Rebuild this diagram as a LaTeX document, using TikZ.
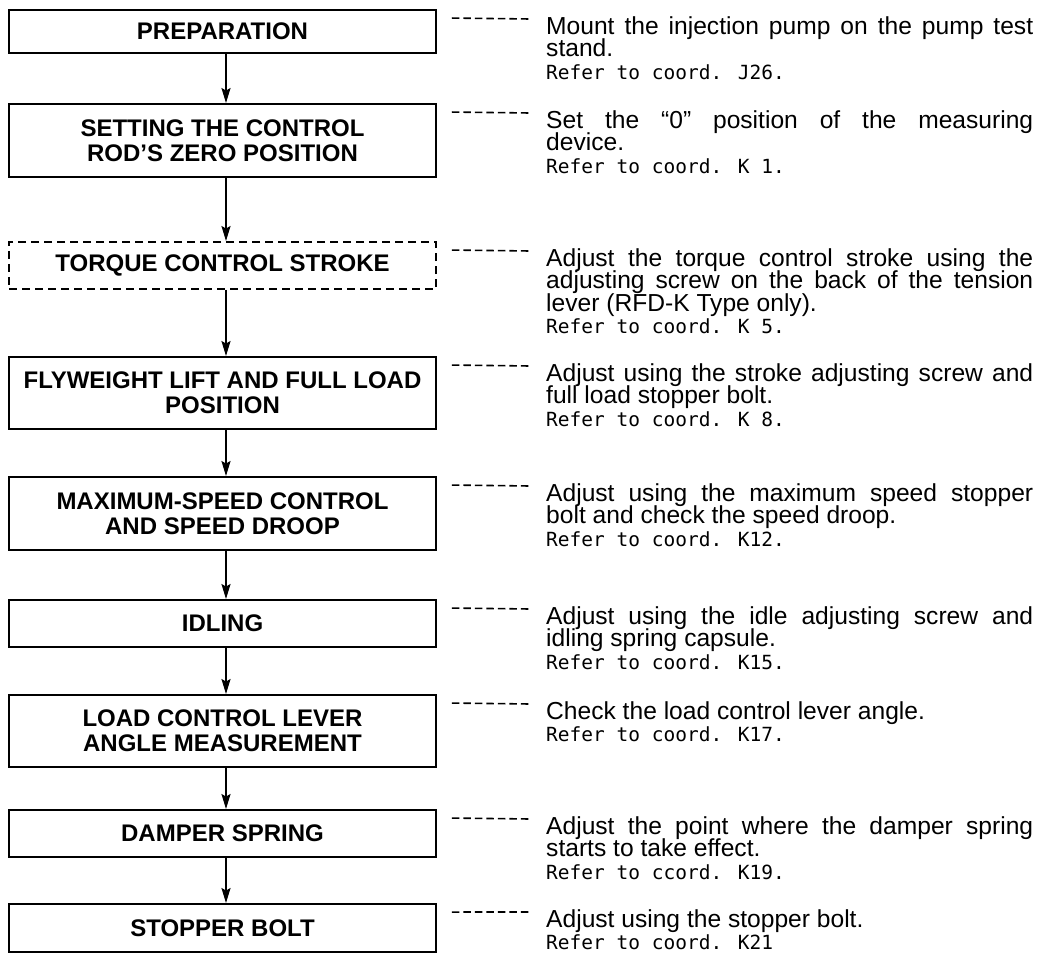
\documentclass[tikz,border=0pt]{standalone}
\usepackage{fontspec}
\setmainfont{Liberation Sans}
\newfontfamily\monofont{DejaVu Sans Mono}
\usetikzlibrary{arrows.meta}
\newcommand\refline[1]{{\monofont\fontsize{19.5}{22.5}\selectfont #1}}
\newcommand\descfont{\fontsize{24.6}{22.5}\selectfont\lineskiplimit=-20pt\relax}
\begin{document}
\begin{tikzpicture}[x=1pt,y=-1pt,
  box/.style={draw, line width=1.9pt, minimum width=427pt, inner sep=2pt, align=center,
    font=\fontsize{24}{25}\selectfont\bfseries},
  dbox/.style={box, dash pattern=on 8pt off 5pt},
  desc/.style={anchor=north west, inner sep=0pt, text width=487pt, align=justify,
    font=\descfont},
  leader/.style={line width=1.6pt, dash pattern=on 7.5pt off 4pt},
  arr/.style={line width=1.7pt, -{Stealth[length=15pt,width=9pt,inset=2.5pt]}},
]
\useasboundingbox (0,0) rectangle (1037,955);
\fill[white] (0,0) rectangle (1037,955);

\node[box, minimum height=43pt] (b1) at (222.5,31.5) {PREPARATION};
\node[box, minimum height=73pt] (b2) at (222.5,140.5) {SETTING THE CONTROL\\ROD'S ZERO POSITION};
\node[dbox, minimum height=47pt] (b3) at (222.5,265.5) {TORQUE CONTROL STROKE};
\node[box, minimum height=72pt] (b4) at (222.5,393) {FLYWEIGHT LIFT AND FULL LOAD\\POSITION};
\node[box, minimum height=73pt] (b5) at (222.5,513.5) {MAXIMUM-SPEED CONTROL\\AND SPEED DROOP};
\node[box, minimum height=47pt] (b6) at (222.5,623.5) {IDLING};
\node[box, minimum height=72pt] (b7) at (222.5,731) {LOAD CONTROL LEVER\\ANGLE MEASUREMENT};
\node[box, minimum height=47pt] (b8) at (222.5,833.5) {DAMPER SPRING};
\node[box, minimum height=48pt] (b9) at (222.5,928) {STOPPER BOLT};

\node[desc] (d1) at (546,16) {Mount the injection pump on the pump test\linebreak stand.\\\refline{Refer to coord. J26.}};
\node[desc] (d2) at (546,110) {Set the “0” position of the measuring\linebreak device.\\\refline{Refer to coord. K 1.}};
\node[desc] (d3) at (546,248) {Adjust the torque control stroke using the\linebreak adjusting screw on the back of the tension\linebreak lever (RFD-K Type only).\\\refline{Refer to coord. K 5.}};
\node[desc] (d4) at (546,363) {Adjust using the stroke adjusting screw and\linebreak full load stopper bolt.\\\refline{Refer to coord. K 8.}};
\node[desc] (d5) at (546,483) {Adjust using the maximum speed stopper\linebreak bolt and check the speed droop.\\\refline{Refer to coord. K12.}};
\node[desc] (d6) at (546,606) {Adjust using the idle adjusting screw and\linebreak idling spring capsule.\\\refline{Refer to coord. K15.}};
\node[desc] (d7) at (546,701) {Check the load control lever angle.\\\refline{Refer to coord. K17.}};
\node[desc] (d8) at (546,816) {Adjust the point where the damper spring\linebreak starts to take effect.\\\refline{Refer to ccord. K19.}};
\node[desc] (d9) at (546,909) {Adjust using the stopper bolt.\\\refline{Refer to coord. K21}};

\foreach \i in {1,...,9}{
  \draw[leader] ([shift={(15,9)}]b\i.north east) -- ([shift={(-16,3)}]d\i.north west);
}
\foreach \i/\j in {1/2,2/3,3/4,4/5,5/6,6/7,7/8,8/9}{
  \draw[arr] ([xshift=3.5pt]b\i.south) -- ([xshift=3.5pt]b\j.north);
}
\end{tikzpicture}
\end{document}
